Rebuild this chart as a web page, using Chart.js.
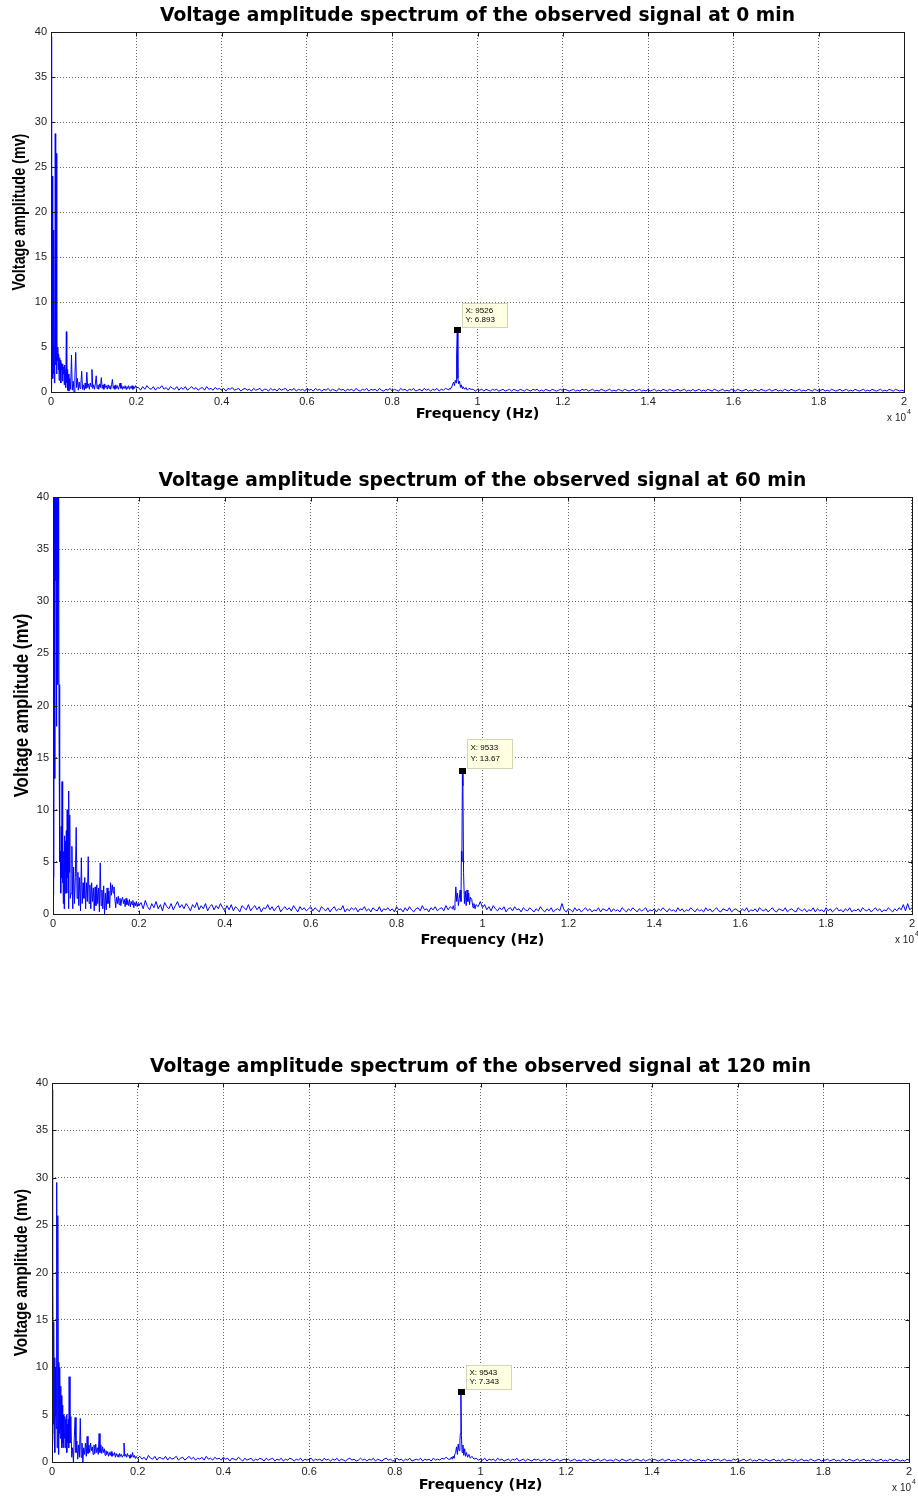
<!DOCTYPE html>
<html>
<head>
<meta charset="utf-8">
<script src="https://cdn.jsdelivr.net/npm/chart.js@4.4.1/dist/chart.umd.min.js"></script>
<style>
  html, body { margin: 0; padding: 0; background: #fff; }
  body { width: 918px; height: 1501px; position: relative; overflow: hidden; }
  canvas { position: absolute; left: 0; }
</style>
</head>
<body>
<canvas id="c0" width="918" height="430" style="top:0px"></canvas>
<canvas id="c1" width="918" height="500" style="top:460px"></canvas>
<canvas id="c2" width="918" height="451" style="top:1050px"></canvas>
<script>
// Titres et axes
const titles = [
  "Voltage amplitude spectrum of the observed signal at 0 min",
  "Voltage amplitude spectrum of the observed signal at 60 min",
  "Voltage amplitude spectrum of the observed signal at 120 min"
];
const xTitle = "Frequency (Hz)";
const yTitle = "Voltage amplitude (mv)";
const xTickHz = [0, 2000, 4000, 6000, 8000, 10000, 12000, 14000, 16000, 18000, 20000];
const xTickLabels = ["0", "0.2", "0.4", "0.6", "0.8", "1", "1.2", "1.4", "1.6", "1.8", "2"];
const yTicks = [0, 5, 10, 15, 20, 25, 30, 35, 40];

// Datatips (pics vers 9.5 kHz)
const tipHz = [9526, 9533, 9543];
const tipMv = [6.893, 13.67, 7.343];

// Grilles de fréquence (Hz)
const lowHz = [
  0,10,20,30,40,50,60,70,80,90,100,110,120,130,140,150,160,170,180,190,
  200,210,220,230,240,250,260,270,280,290,300,310,320,330,340,350,360,370,380,390,400,
  420,440,460,480,500,520,540,560,580,600,
  620,640,660,680,700,720,740,760,780,800,
  820,840,860,880,900,920,940,960,980,1000,
  1020,1040,1060,1080,1100,1120,1140,1160,1180,1200,
  1220,1240,1260,1280,1300,1320,1340,1360,1380,1400,
  1420,1440,1460,1480,1500,1520,1540,1560,1580,1600,
  1620,1640,1660,1680,1700,1720,1740,1760,1780,1800,
  1820,1840,1860,1880,1900,1920,1940,1960,1980,2000
];
const floorHzA = [
  2050,2100,2150,2200,2250,2300,2350,2400,2450,2500,2550,2600,2650,2700,2750,2800,2850,2900,2950,3000,
  3050,3100,3150,3200,3250,3300,3350,3400,3450,3500,3550,3600,3650,3700,3750,3800,3850,3900,3950,4000,
  4050,4100,4150,4200,4250,4300,4350,4400,4450,4500,4550,4600,4650,4700,4750,4800,4850,4900,4950,5000,
  5050,5100,5150,5200,5250,5300,5350,5400,5450,5500,5550,5600,5650,5700,5750,5800,5850,5900,5950,6000,
  6050,6100,6150,6200,6250,6300,6350,6400,6450,6500,6550,6600,6650,6700,6750,6800,6850,6900,6950,7000,
  7050,7100,7150,7200,7250,7300,7350,7400,7450,7500,7550,7600,7650,7700,7750,7800,7850,7900,7950,8000,
  8050,8100,8150,8200,8250,8300,8350,8400,8450,8500,8550,8600,8650,8700,8750,8800,8850,8900,8950,9000,
  9050,9100,9150,9200,9250
];
const floorHzB = [
  9900,9950,10000,
  10050,10100,10150,10200,10250,10300,10350,10400,10450,10500,10550,10600,10650,10700,10750,10800,10850,10900,10950,11000,
  11050,11100,11150,11200,11250,11300,11350,11400,11450,11500,11550,11600,11650,11700,11750,11800,11850,11900,11950,12000,
  12050,12100,12150,12200,12250,12300,12350,12400,12450,12500,12550,12600,12650,12700,12750,12800,12850,12900,12950,13000,
  13050,13100,13150,13200,13250,13300,13350,13400,13450,13500,13550,13600,13650,13700,13750,13800,13850,13900,13950,14000,
  14050,14100,14150,14200,14250,14300,14350,14400,14450,14500,14550,14600,14650,14700,14750,14800,14850,14900,14950,15000,
  15050,15100,15150,15200,15250,15300,15350,15400,15450,15500,15550,15600,15650,15700,15750,15800,15850,15900,15950,16000,
  16050,16100,16150,16200,16250,16300,16350,16400,16450,16500,16550,16600,16650,16700,16750,16800,16850,16900,16950,17000,
  17050,17100,17150,17200,17250,17300,17350,17400,17450,17500,17550,17600,17650,17700,17750,17800,17850,17900,17950,18000,
  18050,18100,18150,18200,18250,18300,18350,18400,18450,18500,18550,18600,18650,18700,18750,18800,18850,18900,18950,19000,
  19050,19100,19150,19200,19250,19300,19350,19400,19450,19500,19550,19600,19650,19700,19750,19800,19850,19900,19950,20000
];

// ---- 0 min ----
const low0 = [
  0.4,39.5,3.0,24.0,1.5,18.0,2.0,16.0,1.0,5.0,
  28.7,3.0,26.5,2.0,5.2,3.5,5.0,2.5,4.2,1.3,
  3.8,2.0,3.5,1.0,3.2,2.5,3.0,1.2,3.1,2.0,
  2.8,0.8,3.0,1.5,2.5,0.5,6.7,1.0,2.5,0.2,
  2.0,
  0.1,1.5,0.3,4.1,0.2,1.2,0.0,1.8,4.4,0.5,
  1.5,0.2,1.1,0.4,0.9,2.3,0.3,0.8,0.2,1.0,
  0.4,2.2,0.5,0.9,0.3,1.0,0.6,2.5,0.4,0.8,
  0.3,0.9,1.8,0.4,0.8,0.3,0.9,0.5,1.6,0.4,
  0.8,0.3,0.9,0.5,0.7,0.3,0.8,0.4,0.7,0.3,
  0.8,1.4,0.4,0.7,0.3,0.8,0.4,0.7,0.3,0.6,
  1.0,0.4,0.7,0.3,0.6,0.4,0.7,0.3,0.6,0.4,
  0.7,0.3,0.6,0.4,0.7,0.3,0.6,0.4,0.7,0.5
];
const floorA0 = [
  0.5,0.2,0.6,0.3,0.7,0.4,0.3,0.6,0.2,0.5,0.4,0.7,0.3,0.5,0.2,0.6,0.4,0.3,0.6,0.2,
  0.5,0.3,0.6,0.2,0.4,0.6,0.3,0.5,0.2,0.4,0.5,0.2,0.6,0.3,0.4,0.2,0.5,0.3,0.4,0.2,
  0.4,0.1,0.4,0.3,0.5,0.2,0.3,0.4,0.1,0.3,0.4,0.2,0.3,0.1,0.4,0.2,0.3,0.4,0.1,0.3,
  0.3,0.1,0.4,0.2,0.3,0.1,0.4,0.2,0.3,0.4,0.1,0.3,0.2,0.4,0.1,0.3,0.2,0.3,0.1,0.4,
  0.2,0.3,0.1,0.4,0.2,0.3,0.1,0.3,0.2,0.4,0.1,0.3,0.2,0.1,0.4,0.2,0.3,0.1,0.3,0.2,
  0.3,0.1,0.4,0.2,0.1,0.3,0.2,0.4,0.1,0.3,0.2,0.3,0.1,0.4,0.2,0.1,0.3,0.2,0.4,0.1,
  0.3,0.2,0.1,0.4,0.2,0.3,0.1,0.3,0.2,0.4,0.1,0.2,0.3,0.1,0.4,0.2,0.3,0.1,0.3,0.2,
  0.4,0.1,0.3,0.2,0.4
];
const peakHz0 = [9300,9320,9340,9360,9380,9400,9420,9440,9460,9480,9500,9510,9526,9540,9560,9580,9600,9620,9640,9660,9700,9730,9760,9800,9850];
const peak0 = [0.3,0.2,0.4,0.3,0.5,0.6,0.9,1.1,0.7,1.3,1.0,4.0,6.893,1.5,0.9,1.2,0.5,0.8,0.4,0.6,0.3,0.5,0.2,0.4,0.3];
const floorB0 = [
  0.3,0.1,0.3,
  0.2,0.3,0.1,0.3,0.2,0.1,0.3,0.2,0.3,0.1,0.2,0.3,0.1,0.2,0.3,0.1,0.3,0.2,0.1,0.3,
  0.2,0.1,0.3,0.2,0.1,0.3,0.2,0.3,0.1,0.2,0.1,0.3,0.2,0.1,0.3,0.2,0.1,0.2,0.3,0.1,
  0.3,0.2,0.1,0.2,0.3,0.1,0.2,0.1,0.3,0.2,0.3,0.1,0.2,0.3,0.1,0.2,0.1,0.3,0.2,0.1,
  0.2,0.3,0.1,0.2,0.1,0.3,0.2,0.1,0.3,0.2,0.1,0.2,0.3,0.1,0.2,0.3,0.1,0.2,0.1,0.3,
  0.1,0.2,0.3,0.1,0.2,0.1,0.3,0.2,0.1,0.3,0.2,0.1,0.2,0.3,0.1,0.2,0.3,0.1,0.2,0.1,
  0.3,0.1,0.2,0.3,0.1,0.2,0.1,0.3,0.2,0.1,0.3,0.2,0.1,0.2,0.3,0.1,0.2,0.1,0.3,0.2,
  0.1,0.3,0.2,0.1,0.2,0.3,0.1,0.2,0.1,0.3,0.2,0.1,0.3,0.2,0.1,0.2,0.3,0.1,0.2,0.3,
  0.1,0.2,0.1,0.3,0.2,0.1,0.3,0.2,0.1,0.2,0.3,0.1,0.2,0.1,0.3,0.2,0.1,0.3,0.2,0.1,
  0.2,0.3,0.1,0.2,0.1,0.3,0.2,0.1,0.2,0.3,0.1,0.2,0.3,0.1,0.2,0.1,0.3,0.2,0.1,0.2,
  0.3,0.1,0.2,0.1,0.3,0.2,0.1,0.2,0.3,0.1,0.2,0.1,0.3,0.2,0.1,0.3,0.2,0.1,0.2,0.1
];

// ---- 60 min ----
const low60 = [
  1.8,45,3.5,48,13,45,32,44,18,32,
  46,22,32,45,18.5,22,5,6,2,8.4,
  3.5,12.7,3,7.5,1,6,0.5,7.5,2,7,
  4,8,2,10,3.5,9,0.5,11.8,4,9.5,
  1.5,
  2.0,6.5,0.5,4.5,1.0,3.5,8.3,1.5,4.0,0.8,
  3.5,0.3,5.4,1.0,3.0,1.5,3.5,0.5,3.0,1.2,
  5.5,1.0,2.8,0.5,3.0,1.2,2.5,0.3,2.6,0.8,
  2.8,1.0,2.5,0.2,4.9,0.8,2.3,0.5,2.7,0.0,
  2.0,0.4,2.5,1.0,2.2,0.6,3.0,1.8,2.8,2.0,
  2.6,1.5,0.6,1.6,1.0,1.7,0.9,1.5,0.8,1.4,
  1.6,1.0,1.4,0.7,1.5,0.9,1.3,0.8,1.4,0.7,
  1.2,0.9,1.3,0.6,1.1,0.8,1.2,0.7,1.0,0.8
];
const floorA60 = [
  1.1,0.5,1.3,0.7,0.4,1.0,0.6,1.2,0.5,0.9,0.3,1.1,0.7,0.5,1.0,0.4,0.8,1.2,0.6,0.9,
  0.5,1.0,0.7,0.3,0.9,0.6,1.1,0.4,0.8,0.5,1.0,0.3,0.7,0.9,0.4,0.8,0.5,1.0,0.6,0.3,
  0.8,0.4,0.9,0.3,0.7,0.5,0.2,0.8,0.6,0.4,0.9,0.3,0.6,0.8,0.4,0.7,0.2,0.6,0.5,0.9,
  0.4,0.7,0.3,0.6,0.8,0.2,0.5,0.7,0.4,0.6,0.3,0.8,0.5,0.2,0.7,0.4,0.6,0.3,0.5,0.7,
  0.3,0.6,0.4,0.2,0.7,0.5,0.3,0.6,0.2,0.5,0.7,0.3,0.5,0.4,0.8,0.2,0.5,0.3,0.6,0.4,
  0.6,0.2,0.5,0.4,0.7,0.3,0.5,0.2,0.6,0.4,0.3,0.7,0.2,0.5,0.4,0.6,0.3,0.5,0.2,0.7,
  0.4,0.5,0.2,0.6,0.3,0.7,0.4,0.2,0.5,0.6,0.3,0.8,0.4,0.5,0.2,0.6,0.4,0.7,0.3,0.5,
  0.6,0.3,0.8,0.4,0.7
];
const peakHz60 = [9300,9320,9340,9360,9380,9400,9420,9440,9460,9480,9500,9510,9520,9533,9545,9560,9580,9600,9620,9640,9660,9680,9700,9720,9750,9780,9800,9830,9850];
const peak60 = [0.5,0.8,0.4,1.0,2.6,1.2,2.0,0.8,1.5,2.3,1.2,6.0,5.0,13.67,12.3,4.0,1.0,2.2,0.8,2.3,1.2,2.0,0.9,1.6,1.4,0.6,1.0,0.5,0.9];
const floorB60 = [
  0.7,1.2,0.6,
  0.9,0.4,0.7,0.3,0.8,0.5,0.3,0.6,0.4,0.7,0.2,0.5,0.6,0.3,0.7,0.4,0.5,0.2,0.6,0.4,
  0.3,0.6,0.4,0.2,0.5,0.3,0.7,0.4,0.2,0.5,0.3,0.6,0.2,0.4,0.5,0.3,1.0,0.4,0.2,0.5,
  0.4,0.2,0.6,0.3,0.5,0.2,0.4,0.6,0.3,0.5,0.2,0.4,0.3,0.6,0.2,0.5,0.4,0.3,0.6,0.2,
  0.5,0.3,0.4,0.2,0.6,0.4,0.2,0.5,0.3,0.6,0.4,0.2,0.5,0.3,0.4,0.6,0.2,0.4,0.3,0.5,
  0.2,0.5,0.3,0.6,0.4,0.2,0.5,0.3,0.4,0.2,0.6,0.3,0.5,0.2,0.4,0.3,0.6,0.4,0.2,0.5,
  0.3,0.4,0.2,0.6,0.3,0.5,0.2,0.4,0.6,0.3,0.2,0.5,0.4,0.3,0.6,0.2,0.4,0.5,0.3,0.2,
  0.5,0.3,0.6,0.2,0.4,0.3,0.5,0.2,0.6,0.4,0.3,0.5,0.2,0.4,0.6,0.3,0.2,0.5,0.4,0.3,
  0.6,0.2,0.4,0.5,0.3,0.2,0.6,0.4,0.3,0.5,0.2,0.4,0.3,0.6,0.2,0.5,0.3,0.4,0.2,0.6,
  0.3,0.5,0.2,0.4,0.6,0.3,0.4,0.2,0.5,0.3,0.6,0.2,0.4,0.3,0.5,0.2,0.6,0.4,0.3,0.5,
  0.2,0.4,0.6,0.3,0.5,0.2,0.4,0.3,0.6,0.4,0.2,0.5,0.3,0.6,0.4,0.9,0.3,1.0,0.4,0.6
];

// ---- 120 min ----
const low120 = [
  39.3,3.0,21.0,4.0,14.8,2.5,11.0,1.0,10.0,5.0,
  3.5,29.5,1.5,12.0,26.0,0.8,10.5,3.0,10.0,2.5,
  8.0,3.5,7.0,1.5,6.0,2.0,5.0,1.5,4.5,2.5,
  4.8,1.5,4.5,3.0,5.0,1.0,4.0,2.0,4.5,1.5,
  9.0,
  2.0,4.8,0.5,1.5,0.0,2.5,4.7,1.0,2.2,0.3,
  1.8,0.5,4.6,0.5,2.0,0.0,1.5,0.8,2.0,0.6,
  2.7,0.9,1.8,1.0,2.0,1.2,1.6,0.8,1.8,0.9,
  1.9,1.0,1.5,0.8,3.0,1.0,1.8,0.9,1.6,1.0,
  1.4,0.7,1.2,0.8,1.1,0.6,1.0,0.7,1.1,0.6,
  0.9,0.7,1.0,0.5,0.9,0.6,0.8,0.5,0.9,0.6,
  0.8,0.5,0.7,2.0,0.6,0.8,0.5,0.9,0.6,0.7,
  0.4,0.8,0.5,1.0,0.5,0.7,0.4,0.6,0.5,0.4
];
const floorA120 = [
  0.6,0.3,0.5,0.2,0.7,0.4,0.3,0.6,0.2,0.5,0.4,0.3,0.6,0.2,0.5,0.3,0.4,0.6,0.2,0.4,
  0.5,0.2,0.4,0.6,0.3,0.5,0.2,0.4,0.3,0.5,0.2,0.6,0.3,0.4,0.2,0.5,0.3,0.4,0.2,0.5,
  0.3,0.4,0.1,0.4,0.3,0.2,0.5,0.3,0.1,0.4,0.2,0.3,0.4,0.1,0.3,0.2,0.4,0.3,0.1,0.4,
  0.2,0.3,0.4,0.1,0.3,0.2,0.4,0.1,0.3,0.2,0.4,0.3,0.1,0.3,0.2,0.4,0.1,0.3,0.2,0.3,
  0.4,0.1,0.3,0.2,0.3,0.1,0.4,0.2,0.3,0.1,0.3,0.2,0.4,0.1,0.3,0.2,0.1,0.3,0.4,0.2,
  0.3,0.1,0.2,0.4,0.2,0.3,0.1,0.3,0.2,0.4,0.1,0.3,0.2,0.1,0.3,0.4,0.2,0.3,0.1,0.2,
  0.4,0.2,0.3,0.1,0.3,0.2,0.4,0.1,0.2,0.3,0.2,0.4,0.1,0.3,0.2,0.3,0.1,0.4,0.2,0.3,
  0.2,0.4,0.3,0.5,0.3
];
const peakHz120 = [9300,9320,9340,9360,9380,9400,9420,9440,9460,9480,9500,9520,9530,9543,9555,9570,9590,9610,9630,9650,9670,9700,9730,9760,9800,9850];
const peak120 = [0.3,0.5,0.3,0.6,0.4,0.8,1.0,1.6,0.8,1.9,1.2,2.3,3.0,7.343,2.8,1.0,1.8,0.7,1.4,0.6,1.0,0.5,0.8,0.4,0.6,0.3];
const floorB120 = [
  0.4,0.2,0.3,
  0.2,0.4,0.1,0.3,0.2,0.3,0.1,0.4,0.2,0.3,0.1,0.2,0.3,0.1,0.3,0.2,0.4,0.1,0.2,0.3,
  0.1,0.3,0.2,0.1,0.3,0.2,0.3,0.1,0.2,0.3,0.1,0.3,0.2,0.1,0.2,0.3,0.1,0.2,0.3,0.2,
  0.3,0.1,0.2,0.3,0.1,0.2,0.1,0.3,0.2,0.1,0.3,0.2,0.1,0.2,0.3,0.1,0.2,0.3,0.1,0.2,
  0.2,0.1,0.3,0.2,0.1,0.3,0.2,0.1,0.2,0.3,0.1,0.2,0.3,0.2,0.1,0.3,0.1,0.2,0.3,0.1,
  0.3,0.2,0.1,0.2,0.3,0.1,0.2,0.3,0.1,0.2,0.1,0.3,0.2,0.1,0.3,0.2,0.1,0.3,0.2,0.1,
  0.2,0.3,0.1,0.2,0.1,0.3,0.2,0.1,0.3,0.2,0.3,0.1,0.2,0.3,0.1,0.2,0.1,0.3,0.2,0.3,
  0.1,0.2,0.3,0.1,0.2,0.3,0.1,0.2,0.1,0.3,0.2,0.1,0.3,0.2,0.1,0.2,0.3,0.1,0.2,0.1,
  0.3,0.1,0.2,0.3,0.2,0.1,0.3,0.1,0.2,0.3,0.1,0.2,0.1,0.3,0.2,0.1,0.2,0.3,0.1,0.2,
  0.2,0.3,0.1,0.2,0.3,0.1,0.2,0.1,0.3,0.2,0.1,0.3,0.2,0.1,0.2,0.3,0.1,0.2,0.3,0.1,
  0.2,0.1,0.3,0.2,0.1,0.2,0.3,0.1,0.2,0.1,0.3,0.2,0.1,0.3,0.2,0.1,0.2,0.1,0.3,0.2
];

// mise en page de chaque figure (px)
const layouts = [
  { padTop: 32, padRight: 14, yWidth: 51, xHeight: 38, xTitlePad: 7,  yFont: 17.5, yTitleX: 20,   tipH: 24 },
  { padTop: 37, padRight: 3,  yWidth: 53, xHeight: 46, xTitlePad: 11, yFont: 20.5, yTitleX: 22,   tipH: 29 },
  { padTop: 33, padRight: 9,  yWidth: 52, xHeight: 39, xTitlePad: 7,  yFont: 18.7, yTitleX: 21.5, tipH: 24 }
];

function pts(hz, mv) {
  return hz.map((f, i) => ({ x: f, y: mv[i] }));
}

const series = [
  [...pts(lowHz, low0), ...pts(floorHzA, floorA0), ...pts(peakHz0, peak0), ...pts(floorHzB, floorB0)],
  [...pts(lowHz, low60), ...pts(floorHzA, floorA60), ...pts(peakHz60, peak60), ...pts(floorHzB, floorB60)],
  [...pts(lowHz, low120), ...pts(floorHzA, floorA120), ...pts(peakHz120, peak120), ...pts(floorHzB, floorB120)]
];

// cadre, petites graduations, titres, x10^4 et datatip
const decor = {
  id: 'decor',
  afterDatasetsDraw(chart, args, opts) {
    const { ctx, chartArea: a, scales: { x, y } } = chart;
    const L = Math.round(a.left) + 0.5, R = Math.round(a.right) + 0.5;
    const T = Math.round(a.top) + 0.5, B = Math.round(a.bottom) + 0.5;
    ctx.save();
    ctx.strokeStyle = '#1a1a1a';
    ctx.lineWidth = 1;
    ctx.beginPath();
    x.ticks.forEach(t => {
      const px = Math.round(x.getPixelForValue(t.value)) + 0.5;
      ctx.moveTo(px, B); ctx.lineTo(px, B - 4);
      ctx.moveTo(px, T); ctx.lineTo(px, T + 4);
    });
    y.ticks.forEach(t => {
      const py = Math.round(y.getPixelForValue(t.value)) + 0.5;
      ctx.moveTo(L, py); ctx.lineTo(L + 4, py);
      ctx.moveTo(R, py); ctx.lineTo(R - 4, py);
    });
    ctx.stroke();
    ctx.strokeRect(L, T, R - L, B - T);

    // titre
    ctx.fillStyle = '#000';
    ctx.font = "bold 18.7px 'DejaVu Sans'";
    ctx.textAlign = 'center';
    ctx.textBaseline = 'middle';
    ctx.fillText(opts.title, (a.left + a.right) / 2, a.top - 16);

    // titre de l'axe y (un peu resserré comme sur la figure)
    ctx.save();
    ctx.translate(opts.yTitleX, (a.top + a.bottom) / 2);
    ctx.rotate(-Math.PI / 2);
    ctx.scale(0.82, 1);
    ctx.font = "bold " + opts.yFont + "px 'Liberation Sans'";
    ctx.fillText(yTitle, 0, 0);
    ctx.restore();

    // x 10^4
    ctx.fillStyle = '#222';
    ctx.textAlign = 'right';
    ctx.font = "10px 'Liberation Sans'";
    ctx.fillText('x 10', a.right + 2, a.bottom + 26);
    ctx.textAlign = 'left';
    ctx.font = "7px 'Liberation Sans'";
    ctx.fillText('4', a.right + 3, a.bottom + 20);

    // datatip
    const px = x.getPixelForValue(opts.tipX);
    const py = y.getPixelForValue(opts.tipY);
    const bx = Math.round(px + 5) + 0.5, bh = opts.tipH;
    const by = Math.round(py - 3 - bh) + 0.5;
    ctx.fillStyle = '#ffffe1';
    ctx.strokeStyle = '#d4d4b8';
    ctx.fillRect(bx, by, 45, bh);
    ctx.strokeRect(bx, by, 45, bh);
    ctx.fillStyle = '#000';
    ctx.font = "8px 'Liberation Sans'";
    ctx.fillText('X: ' + opts.tipX, bx + 3, by + bh * 0.3);
    ctx.fillText('Y: ' + opts.tipY, bx + 3, by + bh * 0.68);
    ctx.fillRect(Math.round(px) - 3, Math.round(py) - 3, 7, 6);
    ctx.restore();
  }
};

Chart.defaults.font.family = "'Liberation Sans', Arial, sans-serif";
Chart.defaults.color = '#222';

series.forEach((data, k) => {
  const lay = layouts[k];
  new Chart(document.getElementById('c' + k), {
    type: 'line',
    data: {
      datasets: [{
        data: data,
        borderColor: '#0000ff',
        borderWidth: 1,
        pointRadius: 0,
        tension: 0,
        fill: false
      }]
    },
    options: {
      responsive: false,
      animation: false,
      events: [],
      layout: { padding: { top: lay.padTop, right: lay.padRight, left: 0, bottom: 0 } },
      plugins: {
        legend: { display: false },
        tooltip: { enabled: false },
        decor: {
          title: titles[k], tipX: tipHz[k], tipY: tipMv[k], tipH: lay.tipH,
          yFont: lay.yFont, yTitleX: lay.yTitleX
        }
      },
      scales: {
        x: {
          type: 'linear',
          min: 0,
          max: 20000,
          afterBuildTicks: s => { s.ticks = xTickHz.map(v => ({ value: v })); },
          afterFit: s => { s.height = lay.xHeight; },
          ticks: {
            autoSkip: false,
            maxRotation: 0,
            padding: 3,
            font: { size: 11 },
            callback: (v, i) => xTickLabels[i]
          },
          grid: { color: 'rgba(0,0,0,0.6)', drawTicks: false },
          border: { display: false, dash: [1, 2] },
          title: {
            display: true,
            text: xTitle,
            color: '#000',
            font: { family: "'DejaVu Sans'", size: 14.5, weight: 'bold' },
            padding: { top: 0, bottom: lay.xTitlePad }
          }
        },
        y: {
          type: 'linear',
          min: 0,
          max: 40,
          afterBuildTicks: s => { s.ticks = yTicks.map(v => ({ value: v })); },
          afterFit: s => { s.width = lay.yWidth; },
          ticks: { padding: 4, font: { size: 11 } },
          grid: { color: 'rgba(0,0,0,0.6)', drawTicks: false },
          border: { display: false, dash: [1, 2] }
        }
      }
    },
    plugins: [decor]
  });
});
</script>
</body>
</html>
